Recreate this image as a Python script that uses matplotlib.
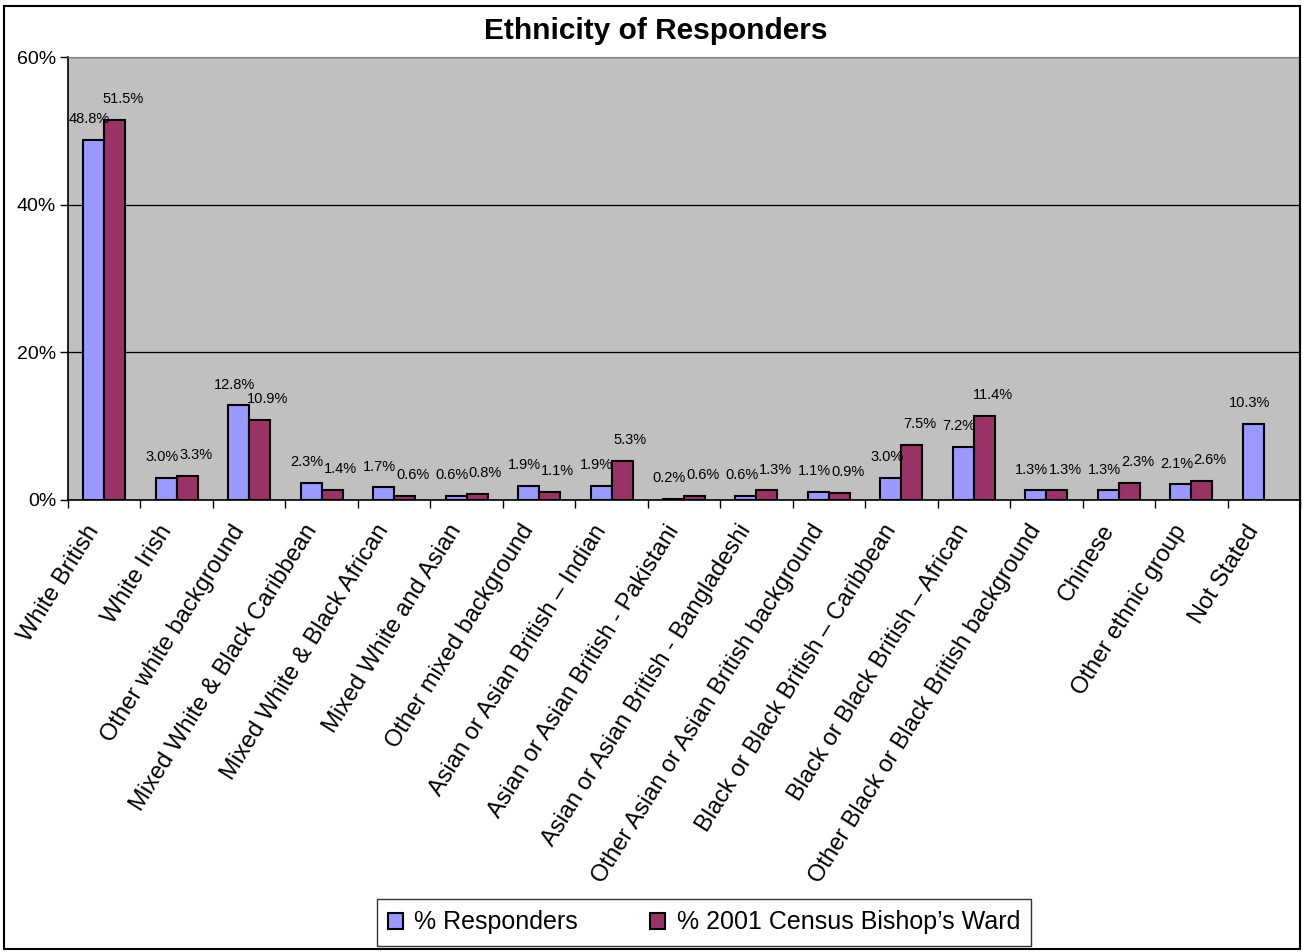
import numpy as np
import matplotlib.pyplot as plt
import matplotlib.transforms as mtransforms
from matplotlib.patches import Rectangle

plt.rcParams['font.family'] = ['Liberation Sans', 'DejaVu Sans']

categories = ["White British", "White Irish", "Other white background",
              "Mixed White & Black Caribbean", "Mixed White & Black African",
              "Mixed White and Asian", "Other mixed background",
              "Asian or Asian British \u2013 Indian", "Asian or Asian British - Pakistani",
              "Asian or Asian British - Bangladeshi", "Other Asian or Asian British background",
              "Black or Black British \u2013 Caribbean", "Black or Black British \u2013 African",
              "Other Black or Black British background", "Chinese",
              "Other ethnic group", "Not Stated"]
responders = [48.8, 3.0, 12.8, 2.3, 1.7, 0.6, 1.9, 1.9, 0.2, 0.6, 1.1, 3.0, 7.2, 1.3, 1.3, 2.1, 10.3]
census = [51.5, 3.3, 10.9, 1.4, 0.6, 0.8, 1.1, 5.3, 0.6, 1.3, 0.9, 7.5, 11.4, 1.3, 2.3, 2.6, np.nan]
yticks = [0, 20, 40, 60]

fig = plt.figure(figsize=(13.03, 9.52), dpi=100)
ax = fig.add_axes([0.0522, 0.4748, 0.9455, 0.4653])
ax.set_facecolor('#C0C0C0')

x = np.arange(len(categories))
w = 0.29
b1 = ax.bar(x - w / 2, responders, w, color='#9999FF', edgecolor='black', linewidth=1.5,
            label='% Responders', zorder=3)
b2 = ax.bar(x + w / 2, census, w, color='#993366', edgecolor='black', linewidth=1.5,
            label='% 2001 Census Bishop\u2019s Ward', zorder=3)

# value labels, offsets roughly like the Excel original
for xi, v in zip(x, responders):
    ax.annotate(f"{v:.1f}%", (xi - w / 2, v), xytext=(-3, 10), textcoords='offset points',
                ha='center', va='bottom', fontsize=10.5)
for xi, v in zip(x, census):
    if np.isnan(v):
        continue
    ax.annotate(f"{v:.1f}%", (xi + w / 2, v), xytext=(6, 10), textcoords='offset points',
                ha='center', va='bottom', fontsize=10.5)

ax.set_xlim(-0.5, len(categories) - 0.5)
ax.set_ylim(0, 60)
ax.set_yticks(yticks)
ax.set_yticklabels([f"{t}%" for t in yticks], fontsize=14)
ax.yaxis.grid(True, color='black', linewidth=0.9, zorder=1)
ax.tick_params(axis='y', direction='out', length=6, width=1, pad=2.5)

ax.set_xticks(x)
ax.set_xticklabels(categories, rotation=58, ha='right', rotation_mode='anchor', fontsize=17)
ax.tick_params(axis='x', which='major', length=0, pad=15)
shift = mtransforms.ScaledTranslation(-19 / 100, 0, fig.dpi_scale_trans)
for lab in ax.get_xticklabels():
    lab.set_transform(lab.get_transform() + shift)
ax.set_xticks(np.arange(len(categories) + 1) - 0.5, minor=True)
ax.tick_params(axis='x', which='minor', direction='out', length=6, width=1)

for s in ['left', 'bottom']:
    ax.spines[s].set_color('black')
    ax.spines[s].set_linewidth(1.2)
for s in ['top', 'right']:
    ax.spines[s].set_color('#808080')

fig.text(0.5035, 0.967, "Ethnicity of Responders", fontsize=21.5, fontweight='bold',
         ha='center', va='center')

leg = fig.legend(handles=[b1, b2], loc='center', bbox_to_anchor=(0.5403, 0.031), ncol=2,
                 fontsize=18, frameon=True, fancybox=False, edgecolor='black',
                 handlelength=0.6, handleheight=0.6, handletextpad=0.45, columnspacing=2.9,
                 borderpad=0.45, borderaxespad=0)
leg.get_frame().set_linewidth(1.0)

fig.patches.append(Rectangle((0.003, 0.003), 0.995, 0.991, transform=fig.transFigure,
                             fill=False, edgecolor='black', linewidth=1.5))

fig.savefig('out.png', dpi=100)
